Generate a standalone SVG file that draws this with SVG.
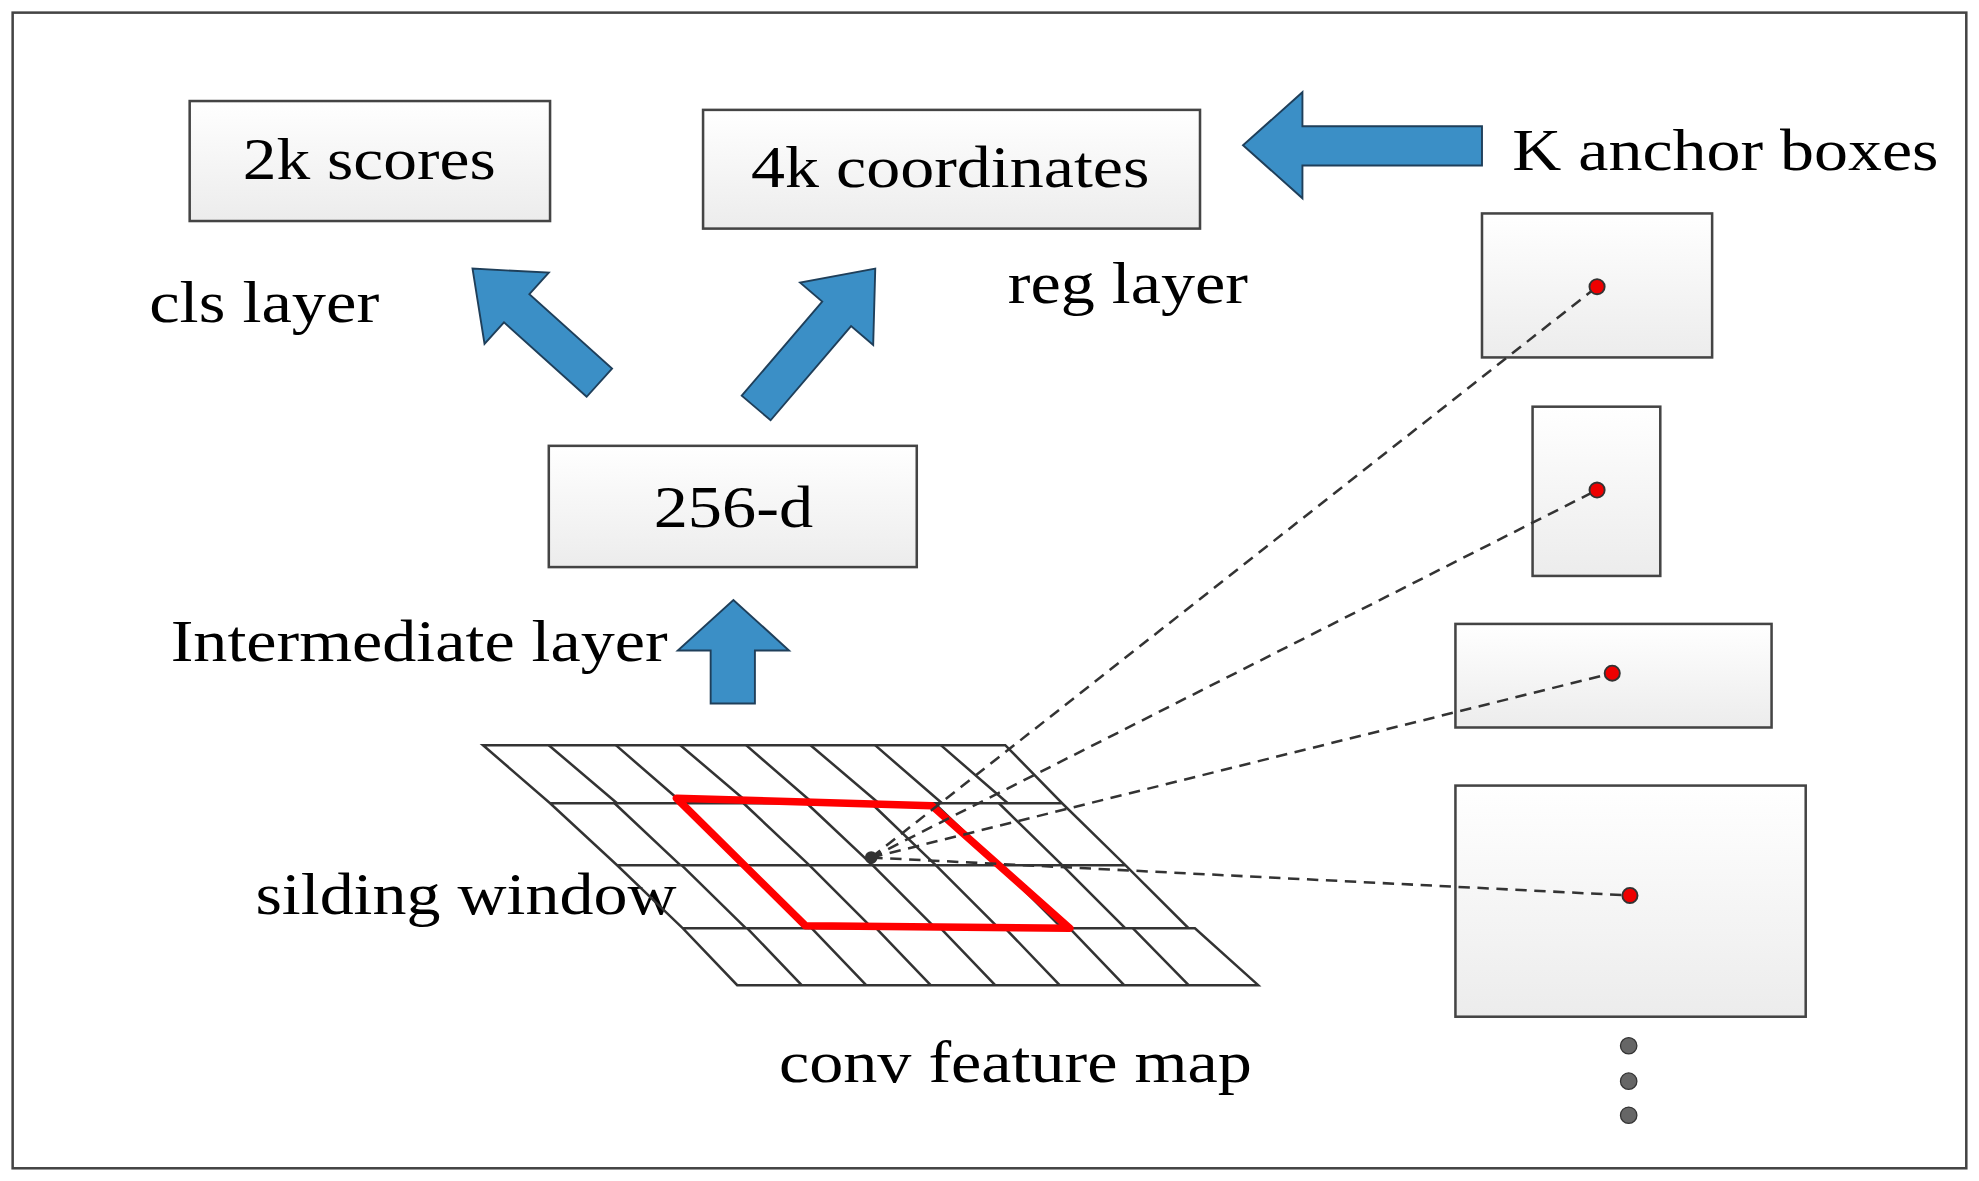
<svg xmlns="http://www.w3.org/2000/svg" width="1979" height="1181" viewBox="0 0 1979 1181">
<defs>
<linearGradient id="g" x1="0" y1="0" x2="0" y2="1"><stop offset="0" stop-color="#ffffff"/><stop offset="1" stop-color="#ececec"/></linearGradient>
<style>
.box{fill:url(#g);stroke:#444;stroke-width:2}
.t{font-family:'Liberation Serif','Times New Roman',serif;font-size:47px;fill:#000}
.arr{fill:#3b8fc6;stroke:#1f3f5a;stroke-width:1.5}
.dash{stroke:#333;stroke-width:2;stroke-dasharray:9,6;fill:none}
.grid{stroke:#333;stroke-width:2;fill:none}
.rd{fill:#e00;stroke:#333;stroke-width:1.5}
</style>
</defs>
<rect width="1979" height="1181" fill="#fff"/>
<g transform="scale(1.2645,1.263)">
<rect x="10" y="10" width="1545" height="915" fill="none" stroke="#444" stroke-width="2"/>
<g id="scores"><rect class="box" x="150" y="80" width="285" height="95"/><text class="t" font-family="Liberation Serif, serif" x="192" y="142" textLength="200" lengthAdjust="spacingAndGlyphs">2k scores</text></g>
<g id="coords"><rect class="box" x="556" y="87" width="393" height="94"/><text class="t" font-family="Liberation Serif, serif" x="594" y="148" textLength="315" lengthAdjust="spacingAndGlyphs">4k coordinates</text></g>
<g id="d256"><rect class="box" x="434" y="353" width="291" height="96"/><text class="t" font-family="Liberation Serif, serif" x="517" y="417" textLength="126" lengthAdjust="spacingAndGlyphs">256-d</text></g>
<g id="labels" font-family="Liberation Serif, serif">
<text class="t" x="1196" y="135" textLength="337" lengthAdjust="spacingAndGlyphs">K anchor boxes</text>
<text class="t" x="118" y="255" textLength="182" lengthAdjust="spacingAndGlyphs">cls layer</text>
<text class="t" x="797" y="240" textLength="190" lengthAdjust="spacingAndGlyphs">reg layer</text>
<text class="t" x="135" y="523" textLength="393" lengthAdjust="spacingAndGlyphs">Intermediate layer</text>
<text class="t" x="202" y="724" textLength="333" lengthAdjust="spacingAndGlyphs">silding window</text>
<text class="t" x="616" y="857" textLength="374" lengthAdjust="spacingAndGlyphs">conv feature map</text>
</g>
<g id="arrows">
<polygon class="arr" points="1172,100 1030,100 1030,73 983,115 1030,157 1030,131 1172,131"/>
<polygon class="arr" points="562,557 562,515 536,515 580,475 624,515 597,515 597,557"/>
<polygon class="arr" transform="translate(474,303) rotate(-48)" points="-15,0 -15,-88 -38,-88 0,-135 38,-88 15,-88 15,0"/>
<polygon class="arr" transform="translate(598,323) rotate(40.5)" points="-15,0 -15,-98 -38,-98 0,-145 38,-98 15,-98 15,0"/>
</g>
<g id="anchors">
<rect class="box" x="1172" y="169" width="182" height="114"/>
<rect class="box" x="1212" y="322" width="101" height="134"/>
<rect class="box" x="1151" y="494" width="250" height="82"/>
<rect class="box" x="1151" y="622" width="277" height="183"/>
<circle fill="#666" stroke="#333" cx="1288" cy="828" r="6.5"/>
<circle fill="#666" stroke="#333" cx="1288" cy="856" r="6.5"/>
<circle fill="#666" stroke="#333" cx="1288" cy="883" r="6.5"/>
</g>
<g id="featuremap">
<path class="grid" d="M382,590 H795 L840,636 H435 Z M435,636 H840 L890,685 H488 Z M488,685 H890 L940,735 H540 Z M540,735 H945 L995,780 H583 Z"/>
<path class="grid" d="M434,590 L488,636 M487,590 L540,636 M538,590 L592,636 M590,590 L643,636 M641,590 L695,636 M692,590 L745,636 M744,590 L797,636
M486,636 L538,685 M537,636 L589,685 M588,636 L640,685 M638,636 L690,685 M689,636 L740,685 M739,636 L790,685 M790,636 L840,685
M539,685 L590,735 M590,685 L640,735 M640,685 L690,735 M690,685 L740,735 M740,685 L790,735 M790,685 L840,735 M840,685 L890,735
M591,735 L634,780 M642,735 L685,780 M693,735 L736,780 M744,735 L787,780 M795,735 L838,780 M846,735 L889,780 M896,735 L940,780"/>
<polygon points="535,632 737,638 846,735 637,733" fill="none" stroke="#f00" stroke-width="6" stroke-linejoin="round"/>
</g>
<g id="connectors">
<path class="dash" d="M689,679 L1263,227 M689,679 L1263,388 M689,679 L1275,533 M689,679 L1289,709"/>
</g>
<g id="points">
<circle cx="689" cy="679" r="5" fill="#333"/>
<circle class="rd" cx="1263" cy="227" r="6"/>
<circle class="rd" cx="1263" cy="388" r="6"/>
<circle class="rd" cx="1275" cy="533" r="6"/>
<circle class="rd" cx="1289" cy="709" r="6"/>
</g>
</g>
</svg>
